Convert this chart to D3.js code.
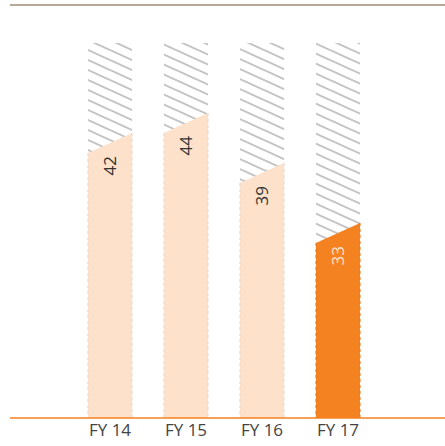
<!DOCTYPE html>
<html>
<head>
<meta charset="utf-8">
<script src="https://d3js.org/d3.v7.min.js"></script>
<style>
  body { margin: 0; background: #fff; }
  svg { display: block; font-family: "Open Sans", sans-serif; }
</style>
</head>
<body>
<svg id="chart" width="445" height="446"></svg>
<script>
const years = ["FY 14", "FY 15", "FY 16", "FY 17"];
const values = [42, 44, 39, 33];
const highlight = [false, false, false, true];

const width = 445, height = 446;
const baseY = 418;

const svg = d3.select("#chart");

const x = d3.scaleBand()
    .domain(years)
    .range([72, 376])
    .paddingInner(0.42)
    .paddingOuter(0.21);

// bars don't start at zero, slant top spans +-1 unit around value
const y = d3.scaleLinear()
    .domain([14.5, 52])
    .range([baseY, 43]);

// hatch pattern
const defs = svg.append("defs");
const pat = defs.append("pattern")
    .attr("id", "hatch")
    .attr("patternUnits", "userSpaceOnUse")
    .attr("width", 22)
    .attr("height", 10);
pat.append("path")
    .attr("d", "M-4.4,-2 L26.4,12 M-4.4,8 L4.4,12 M17.6,-2 L26.4,2")
    .attr("stroke", "#c4c4c4")
    .attr("stroke-width", 2)
    .attr("fill", "none");

// top rule
svg.append("line")
    .attr("x1", 10).attr("x2", width)
    .attr("y1", 5).attr("y2", 5)
    .attr("stroke", "#9c8b74")
    .attr("stroke-width", 1.5);

const g = svg.append("g");

const bars = g.selectAll(".bar")
    .data(years.map((d, i) => ({ year: d, value: values[i], hi: highlight[i] })))
    .enter().append("g")
    .attr("class", "bar");

bars.append("rect")
    .attr("x", d => x(d.year))
    .attr("y", y(52))
    .attr("width", x.bandwidth())
    .attr("height", d => y(d.value - 1) - y(52))
    .attr("fill", "url(#hatch)");

bars.append("path")
    .attr("d", d => {
        const x0 = x(d.year), x1 = x0 + x.bandwidth();
        return `M${x0},${baseY} L${x0},${y(d.value - 1)} L${x1},${y(d.value + 1)} L${x1},${baseY} Z`;
    })
    .attr("fill", d => d.hi ? "#f58220" : "#fde1ca");

// dashed side edges
bars.each(function(d) {
    const b = d3.select(this);
    const x0 = x(d.year), x1 = x0 + x.bandwidth();
    [[x0, y(d.value - 1)], [x1, y(d.value + 1)]].forEach(([xx, yy]) => {
        b.append("line")
            .attr("x1", xx).attr("x2", xx)
            .attr("y1", yy).attr("y2", baseY)
            .attr("stroke", d.hi ? "#e07a20" : "#e6d6c8")
            .attr("stroke-width", 1)
            .attr("stroke-dasharray", "3,3");
    });
});

bars.append("text")
    .attr("transform", d => `translate(${x(d.year) + x.bandwidth() / 2},${y(d.value - 1) + 3}) rotate(-90)`)
    .attr("dy", "0.35em")
    .attr("text-anchor", "end")
    .attr("font-size", 17)
    .attr("fill", d => d.hi ? "#fde1ca" : "#333")
    .text(d => d.value);

// baseline
svg.append("line")
    .attr("x1", 10).attr("x2", width)
    .attr("y1", baseY).attr("y2", baseY)
    .attr("stroke", "#f58220")
    .attr("stroke-width", 1.5);

const axis = svg.append("g")
    .attr("transform", `translate(0,${baseY})`)
    .call(d3.axisBottom(x).tickSize(0).tickPadding(6));
axis.select(".domain").remove();
axis.selectAll("text")
    .attr("font-family", "Open Sans, sans-serif")
    .attr("font-size", 17)
    .attr("fill", "#444");
</script>
</body>
</html>
